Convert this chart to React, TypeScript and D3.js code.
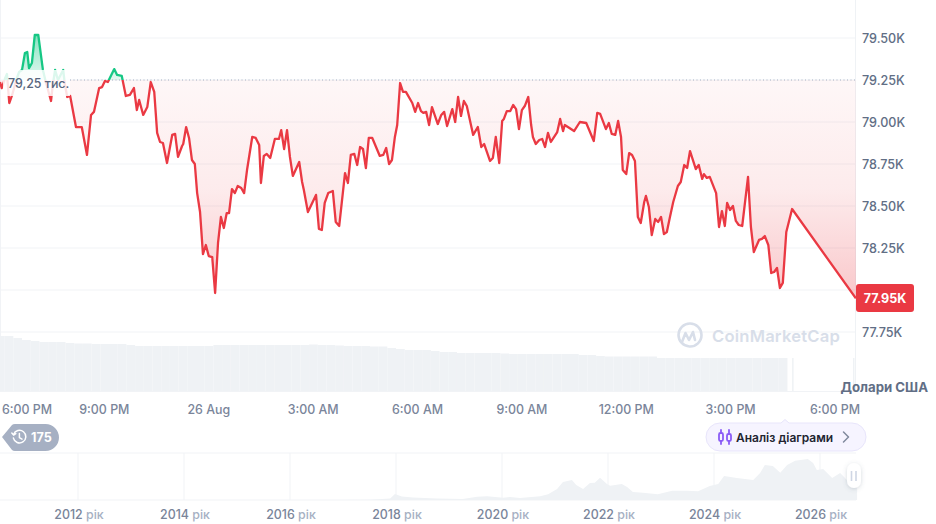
import React from "react";
import * as d3 from "d3";

// minutes since 6:00 PM on 25 Aug
const minutes = [
  0, 3, 9, 12, 16, 21, 28, 33, 38, 43, 47, 50, 55, 60, 66, 74, 79, 88, 91, 95, 100, 109, 112, 116, 121,
  131, 141, 150, 157, 162, 171, 176, 181, 186, 197, 202, 210, 217, 224, 231, 236, 240, 247, 254, 260, 266,
  271, 276, 281, 288, 297, 302, 307, 314, 316, 321, 326, 331, 336, 340, 345, 350, 355, 360, 366, 371, 376,
  381, 386, 391, 395, 400, 405, 410, 416, 421, 426, 435, 441, 447, 450, 455, 460, 466, 474, 481, 485, 490,
  495, 500, 505, 516, 521, 524, 531, 545, 550, 555, 560, 566, 574, 579, 585, 595, 600, 605, 611, 616, 621,
  626, 631, 636, 642, 655, 661, 666, 671, 676, 681, 685, 690, 695, 700, 711, 716, 721, 726, 730, 735, 740,
  745, 755, 761, 766, 771, 780, 785, 790, 795, 800, 805, 816, 824, 830, 835, 845, 850, 855, 861, 866, 869,
  874, 880, 885, 890, 895, 900, 905, 911, 916, 919, 924, 930, 935, 940, 945, 950, 961, 966, 971, 974, 990,
  1000, 1011, 1024, 1030, 1035, 1045, 1050, 1055, 1061, 1066, 1071, 1074, 1080, 1085, 1090, 1095, 1100,
  1105, 1111, 1114, 1119, 1124, 1130, 1135, 1140, 1145, 1150, 1155, 1161, 1169, 1174, 1180, 1185, 1190,
  1200, 1205, 1211, 1214, 1219, 1224, 1235, 1240, 1245, 1250, 1254, 1259, 1264, 1269, 1274, 1280, 1290,
  1295, 1300, 1309, 1314, 1319, 1325, 1330, 1335, 1340, 1345, 1350, 1356, 1366, 1476,
];

const prices = [
  79238, 79202, 79262, 79286, 79113, 79161, 79250, 79298, 79310, 79411, 79417, 79321, 79351, 79518, 79518,
  79310, 79238, 79125, 79220, 79310, 79250, 79310, 79220, 79149, 79155, 78970, 78970, 78804, 79042, 79060,
  79202, 79208, 79244, 79238, 79315, 79280, 79274, 79155, 79161, 79202, 79071, 79131, 79042, 79089, 79238,
  79179, 78935, 78881, 78875, 78756, 78923, 78929, 78792, 78857, 78869, 78970, 78905, 78774, 78750, 78577,
  78464, 78214, 78268, 78202, 78196, 77982, 78280, 78435, 78369, 78458, 78458, 78601, 78577, 78619, 78607,
  78577, 78714, 78911, 78905, 78863, 78637, 78798, 78810, 78786, 78899, 78899, 78952, 78839, 78952, 78792,
  78679, 78762, 78643, 78595, 78464, 78566, 78363, 78357, 78518, 78577, 78589, 78405, 78381, 78696, 78637,
  78804, 78810, 78744, 78851, 78839, 78726, 78905, 78905, 78798, 78804, 78845, 78750, 78774, 78911, 78982,
  79232, 79179, 79179, 79113, 79060, 79113, 79065, 79054, 79060, 78982, 79089, 78988, 79042, 79060, 78976,
  79077, 79000, 79149, 79036, 79125, 79095, 78923, 78970, 78851, 78869, 78768, 78786, 78911, 78756, 79006,
  79018, 79065, 79065, 79101, 79077, 78958, 79071, 79095, 79149, 78982, 78911, 78869, 78893, 78899, 78851,
  78935, 78881, 78940, 79018, 78946, 78982, 78946, 79000, 78994, 78887, 79054, 79048, 78958, 78994, 78929,
  78923, 79006, 78911, 78714, 78690, 78815, 78804, 78768, 78435, 78399, 78524, 78560, 78494, 78327, 78423,
  78405, 78435, 78333, 78345, 78429, 78524, 78619, 78643, 78744, 78726, 78827, 78720, 78744, 78661, 78690,
  78667, 78673, 78577, 78375, 78470, 78381, 78518, 78476, 78500, 78411, 78387, 78381, 78673, 78375, 78226,
  78298, 78304, 78321, 78268, 78101, 78107, 78131, 78012, 78042, 78345, 78482, 77950,
];

const basePrice = 79250;
const lastPrice = 77950;

const priceTicks = [79500, 79250, 79000, 78750, 78500, 78250, 78000, 77750];
const priceTickLabels = ["79.50K", "79.25K", "79.00K", "78.75K", "78.50K", "78.25K", "", "77.75K"];

const timeTicks = [180, 360, 540, 720, 900, 1080, 1260, 1440];
const timeLabels = ["9:00 PM", "26 Aug", "3:00 AM", "6:00 AM", "9:00 AM", "12:00 PM", "3:00 PM", "6:00 PM"];

// volume in billions, one bar per 15 minutes from -7 min
const volumes = [
  55, 55, 53, 51, 50, 49, 49, 49, 48, 47.5, 47.5, 47, 47, 47, 47, 46, 45, 45, 45, 45, 45, 45, 45, 45, 45,
  46, 46, 46, 46, 46, 46, 46, 46, 46, 46, 46, 46.5, 46, 46, 45.5, 45, 45, 45, 44.5, 44.5, 43, 42, 41, 41,
  41, 40, 39, 39, 38, 38, 38, 38, 38, 37.5, 37, 37, 37, 37, 37, 37, 37, 37, 36, 36, 35, 34.5, 34.5, 34.5,
  34.5, 34.5, 34.5, 33, 33, 33, 33, 33, 33, 33, 33, 33, 33, 33, 33, 33, 33, 33,
];
const lateVolumeMinutes = [1366, 1471];
const lateVolumes = [33, 33];

const miniYears = [
  2010.53, 2016.94, 2017.51, 2017.89, 2017.98, 2018.11, 2018.32, 2018.77, 2019.26, 2019.53, 2019.72, 2020.02,
  2020.15, 2020.34, 2020.72, 2020.87, 2021.04, 2021.15, 2021.32, 2021.4, 2021.53, 2021.66, 2021.75, 2021.85,
  2021.98, 2022.04, 2022.26, 2022.36, 2022.47, 2022.66, 2022.94, 2023.21, 2023.49, 2023.7, 2023.92, 2024.08,
  2024.19, 2024.43, 2024.74, 2024.87, 2024.96, 2025.11, 2025.25, 2025.38, 2025.53, 2025.77, 2025.87, 2025.94,
  2026.06, 2026.23, 2026.38, 2026.6, 2026.7,
];
const miniPrices = [
  0, 300, 500, 4500, 18000, 10500, 7500, 4500, 3000, 9900, 11100, 6900, 9000, 6000, 11100, 17100, 33000,
  54000, 60000, 45000, 33000, 51000, 51900, 66900, 48000, 42900, 48000, 39000, 24000, 21900, 17100, 27900,
  27900, 26100, 42000, 48000, 72000, 66000, 60000, 81000, 105000, 102000, 81900, 105000, 117900, 123000,
  111000, 90000, 93000, 66000, 81000, 45000, 51000,
];
const miniTicks = [2012, 2014, 2016, 2018, 2020, 2022, 2024, 2026];

const RED = "#ea3943";
const GREEN = "#16c784";
const GRID = "#f1f3f6";
const AXIS_TEXT = "#7a859a";
const FONT = "Inter, 'Noto Sans', sans-serif";

const x = d3.scaleLinear().domain([0, 1440]).range([0, 835]);
const y = d3.scaleLinear().domain([77750, 79500]).range([332, 38]);
const vol = d3.scaleLinear().domain([0, 55]).range([391, 336]);
const miniX = d3.scaleLinear().domain([2012, 2026]).range([78, 820]);
const miniY = d3.scaleLinear().domain([0, 141000]).range([500, 453]);

const series = minutes.map((m, i) => ({ m, p: prices[i] }));
const mini = miniYears.map((yr, i) => ({ yr, p: miniPrices[i] }));

const linePath = d3
  .line<{ m: number; p: number }>()
  .x((d) => x(d.m))
  .y((d) => y(d.p))(series) as string;

const areaPath = d3
  .area<{ m: number; p: number }>()
  .x((d) => x(d.m))
  .y0(y(basePrice))
  .y1((d) => y(d.p))(series) as string;

const miniPath = d3
  .area<{ yr: number; p: number }>()
  .x((d) => miniX(d.yr))
  .y0(miniY(0))
  .y1((d) => miniY(d.p))(mini) as string;

const App: React.FC = () => {
  const baseY = y(basePrice);
  const lastY = y(lastPrice);
  const chartRight = 856;
  const barWidth = x(15) - x(0);

  return (
    <svg
      width={936}
      height={524}
      style={{ position: "fixed", left: 0, top: 0, display: "block", background: "#fff" }}
      fontFamily={FONT}
    >
      <defs>
        <linearGradient id="redFill" gradientUnits="userSpaceOnUse" x1="0" x2="0" y1={baseY} y2={lastY}>
          <stop offset="0" stopColor={RED} stopOpacity={0.04} />
          <stop offset="0.5" stopColor={RED} stopOpacity={0.1} />
          <stop offset="1" stopColor={RED} stopOpacity={0.28} />
        </linearGradient>
        <linearGradient id="greenFill" gradientUnits="userSpaceOnUse" x1="0" x2="0" y1={35} y2={baseY}>
          <stop offset="0" stopColor={GREEN} stopOpacity={0.5} />
          <stop offset="1" stopColor={GREEN} stopOpacity={0.12} />
        </linearGradient>
        <clipPath id="aboveBase">
          <rect x={0} y={0} width={chartRight} height={baseY} />
        </clipPath>
        <clipPath id="belowBase">
          <rect x={0} y={baseY} width={chartRight} height={400 - baseY} />
        </clipPath>
        <filter id="handleShadow" x="-60%" y="-40%" width="220%" height="180%">
          <feDropShadow dx="0" dy="1" stdDeviation="2" floodColor="#58667e" floodOpacity="0.25" />
        </filter>
      </defs>

      {/* grid */}
      {priceTicks.map((t) => (
        <line key={t} x1={0} x2={chartRight} y1={y(t)} y2={y(t)} stroke={GRID} strokeWidth={1} />
      ))}
      <line x1={0.5} x2={0.5} y1={0} y2={391} stroke={GRID} />
      <line x1={855.5} x2={855.5} y1={0} y2={391} stroke="#eff2f5" />
      <line x1={0} x2={chartRight} y1={391.5} y2={391.5} stroke={GRID} />

      {/* volume */}
      {volumes.map((v, i) => (
        <rect
          key={i}
          x={x(-7 + i * 15)}
          y={vol(v)}
          width={barWidth}
          height={vol(0) - vol(v)}
          fill="#eff2f5"
        />
      ))}
      {lateVolumes.map((v, i) => (
        <rect
          key={i}
          x={x(lateVolumeMinutes[i])}
          y={vol(v)}
          width={1.5}
          height={vol(0) - vol(v)}
          fill="#eff2f5"
        />
      ))}

      {/* watermark */}
      <g fill="none" stroke="#d8dee9" strokeWidth={2.6} strokeLinecap="round" strokeLinejoin="round">
        <path d="M678.5 335 a11.5 11.5 0 0 1 23 0 a11.5 11.5 0 0 1 -12 11.5 a11.5 11.5 0 0 1 -11 -11.5" />
        <path d="M682 342 l3.5 -9 l3.5 7 l4 -8 l2 8" />
      </g>
      <text x={712} y={341.5} fontSize={16.6} fontWeight={600} fill="#d8dee9" letterSpacing={0.2}>
        CoinMarketCap
      </text>

      {/* price */}
      <path d={areaPath} fill="url(#redFill)" clipPath="url(#belowBase)" />
      <path d={areaPath} fill="url(#greenFill)" clipPath="url(#aboveBase)" />
      <line
        x1={70}
        x2={chartRight}
        y1={baseY}
        y2={baseY}
        stroke="#a6b0c3"
        strokeWidth={1}
        strokeDasharray="1 2.5"
      />
      <path d={linePath} fill="none" stroke={RED} strokeWidth={2.3} strokeLinejoin="round" clipPath="url(#belowBase)" />
      <path d={linePath} fill="none" stroke={GREEN} strokeWidth={2.3} strokeLinejoin="round" clipPath="url(#aboveBase)" />

      {/* base price label */}
      <rect x={3} y={70} width={67} height={26} fill="#fff" fillOpacity={0.85} />
      <text x={8} y={87.5} fontSize={12.4} fontWeight={500} fill="#58667e">
        79,25 тис.
      </text>

      {/* right axis */}
      {priceTicks.map((t, i) =>
        priceTickLabels[i] ? (
          <text key={t} x={862} y={y(t)} dy="0.36em" fontSize={12.6} fontWeight={500} fill="#616e85">
            {priceTickLabels[i]}
          </text>
        ) : null
      )}
      <rect x={856} y={284} width={58} height={28} rx={3} fill={RED} />
      <text x={885} y={298} dy="0.36em" fontSize={12.6} fontWeight={700} fill="#fff" textAnchor="middle">
        77.95K
      </text>
      <text x={928} y={391.5} fontSize={13.2} fontWeight={700} fill="#616e85" textAnchor="end">
        Долари США
      </text>

      {/* time axis */}
      <text x={2} y={414} fontSize={12.4} fontWeight={500} fill={AXIS_TEXT}>
        6:00 PM
      </text>
      {timeTicks.map((t, i) => (
        <text key={t} x={x(t)} y={414} fontSize={12.4} fontWeight={500} fill={AXIS_TEXT} textAnchor="middle">
          {timeLabels[i]}
        </text>
      ))}

      {/* 175 tag */}
      <path
        d="M2 437 L12 425 Q13 424 15 424 L45.5 424 A13.5 13.5 0 0 1 45.5 451 L15 451 Q13 451 12 450 Z"
        fill="#a6b0c3"
      />
      <g fill="none" stroke="#fff" strokeWidth={1.5} strokeLinecap="round" strokeLinejoin="round">
        <path d="M13.6 434.5 a6.3 6.3 0 1 1 -0.2 3.6" />
        <path d="M11.8 433 l1.8 2 l2.2 -1.4" />
        <path d="M19.4 433.6 v4 l2.6 1.5" />
      </g>
      <text x={31} y={441.8} fontSize={12.6} fontWeight={700} fill="#fff">
        175
      </text>

      {/* chart analysis button */}
      <path
        d="M720 423 H781 L785 419.5 L789 423 H852 A14 14 0 0 1 852 451 H720 A14 14 0 0 1 720 423 Z"
        fill="#f6f4ff"
        stroke="#e8e5fb"
      />
      <g fill="none" stroke="#8b5cf6" strokeWidth={1.8} strokeLinecap="round">
        <rect x={719} y={433} width={4} height={8} rx={1.5} />
        <line x1={721} x2={721} y1={430} y2={433} />
        <line x1={721} x2={721} y1={441} y2={444} />
        <rect x={727} y={434} width={4} height={7} rx={1.5} />
        <line x1={729} x2={729} y1={430} y2={434} />
        <line x1={729} x2={729} y1={441} y2={444} />
      </g>
      <text x={736} y={442} fontSize={12} fontWeight={600} fill="#222531">
        Аналіз діаграми
      </text>
      <path d="M843.5 432 L848.5 437 L843.5 442" fill="none" stroke="#808a9d" strokeWidth={1.5} strokeLinecap="round" strokeLinejoin="round" />

      {/* overview */}
      <line x1={0} x2={chartRight} y1={453} y2={453} stroke={GRID} />
      <line x1={0} x2={chartRight} y1={500} y2={500} stroke={GRID} />
      {miniTicks.map((t) => (
        <line key={t} x1={miniX(t)} x2={miniX(t)} y1={453} y2={500} stroke={GRID} />
      ))}
      <path d={miniPath} fill="#eff2f5" />
      <rect x={847} y={463} width={14} height={25} rx={7} fill="#fff" filter="url(#handleShadow)" />
      <line x1={851.5} x2={851.5} y1={471} y2={481} stroke="#cfd6e4" strokeWidth={1.6} />
      <line x1={856} x2={856} y1={471} y2={481} stroke="#cfd6e4" strokeWidth={1.6} />
      {miniTicks.map((t) => (
        <text key={t} x={miniX(t) + 1} y={519} fontSize={12.4} fontWeight={500} fill={AXIS_TEXT} textAnchor="middle">
          {t} <tspan fill="#a6b0c3">рік</tspan>
        </text>
      ))}
    </svg>
  );
};

export default App;
